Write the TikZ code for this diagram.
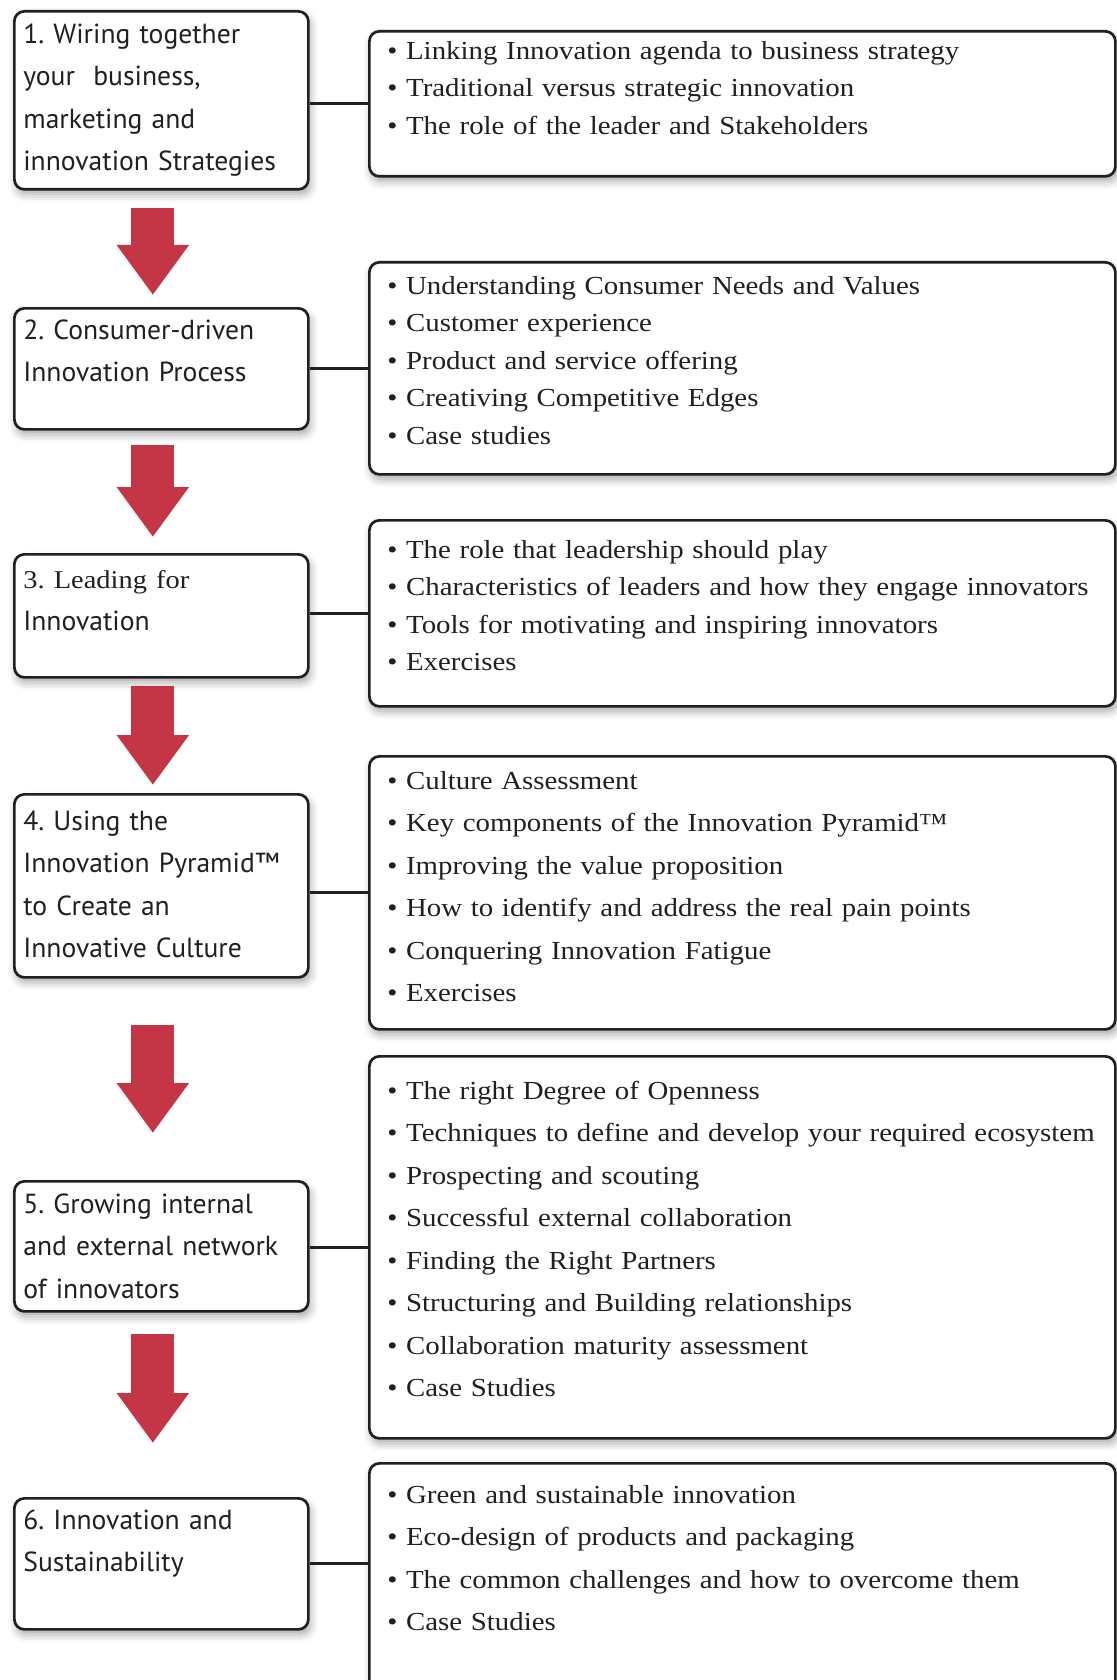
\documentclass[tikz,border=0pt]{standalone}
\usepackage{fontspec}
\usepackage{xcolor}
\usepackage{tikz}
\usetikzlibrary{arrows.meta,shadows.blur}
\newfontfamily\stagefont{PT Sans}
\newfontfamily\topicfont{Liberation Serif}[FakeStretch=1.11]
\definecolor{arrowred}{RGB}{196, 54, 70}
\definecolor{inkblack}{RGB}{35, 31, 32}
\frenchspacing

\begin{document}
\begin{tikzpicture}[
    x=0.5pt, y=-0.5pt,
    stage/.style={draw=inkblack, line width=1.35pt, rounded corners=5pt, fill=white, anchor=north west,
        text width=138pt, inner xsep=4.5pt, inner ysep=0pt, align=left, text=inkblack,
        font=\stagefont\fontsize{13.8}{21.25}\selectfont,
        blur shadow={shadow xshift=1pt, shadow yshift=-2.5pt, shadow blur radius=4pt, shadow opacity=35}},
    topics/.style={draw=inkblack, line width=1.35pt, rounded corners=5pt, fill=white, anchor=north west,
        text width=355pt, inner xsep=9pt, inner ysep=0pt, align=left, text=inkblack,
        font=\topicfont\fontsize{13}{21.25}\selectfont,
        blur shadow={shadow xshift=1pt, shadow yshift=-2.5pt, shadow blur radius=4pt, shadow opacity=35}},
    closelines/.style={font=\topicfont\fontsize{13}{18.75}\selectfont},
    link/.style={draw=inkblack, line width=1.5pt},
    flow/.style={arrowred, line width=21.5pt, -{Triangle[width=34.5pt, length=25pt]}}
]
\useasboundingbox (0,0) rectangle (1116,1680);

% Stages on the left
\node[stage, text height=16pt, text depth=73pt] (s1) at (13,10) {1. Wiring together\\your\ \ business,\\marketing and\\innovation Strategies};
\node[stage, text height=15.5pt, text depth=45pt] (s2) at (13,307) {2. Consumer-driven\\Innovation Process};
\node[stage, text height=17pt, text depth=44.5pt] (s3) at (13,553) {{\topicfont\fontsize{12.8}{21.25}\selectfont 3. Leading for}\\Innovation};
\node[stage, text height=18pt, text depth=73.5pt] (s4) at (13,793) {4. Using the\\Innovation Pyramid™\\to Create an\\Innovative Culture};
\node[stage, text height=16pt, text depth=49pt] (s5) at (13,1180) {5. Growing internal\\and external network\\of innovators};
\node[stage, text height=15.5pt, text depth=50pt] (s6) at (13,1497) {6. Innovation and\\Sustainability};

% Topics on the right
\node[topics, closelines, text height=14pt, text depth=58.5pt] (t1) at (368,30) {• Linking Innovation agenda to business strategy\\• Traditional versus strategic innovation\\• The role of the leader and Stakeholders};
\node[topics, closelines, text height=16pt, text depth=90pt] (t2) at (368,261) {• Understanding Consumer Needs and Values\\• Customer experience\\• Product and service offering\\• Creativing Competitive Edges\\• Case studies};
\node[topics, closelines, text height=19pt, text depth=74pt] (t3) at (368,519) {• The role that leadership should play\\• Characteristics of leaders and how they engage innovators\\• Tools for motivating and inspiring innovators\\• Exercises};
\node[topics, text height=16.5pt, text depth=120pt] (t4) at (368,755) {• Culture Assessment\\• Key components of the Innovation Pyramid™\\• Improving the value proposition\\• How to identify and address the real pain points\\• Conquering Innovation Fatigue\\• Exercises};
\node[topics, text height=21.5pt, text depth=169.5pt] (t5) at (368,1055) {• The right Degree of Openness\\• Techniques to define and develop your required ecosystem\\• Prospecting and scouting\\• Successful external collaboration\\• Finding the Right Partners\\• Structuring and Building relationships\\• Collaboration maturity assessment\\• Case Studies};
\node[topics, text height=20pt, text depth=130pt] (t6) at (368,1462) {• Green and sustainable innovation\\• Eco-design of products and packaging\\• The common challenges and how to overcome them\\• Case Studies};

% Links
\draw[link] (t1.west -| s1.east) -- (t1.west);
\draw[link] (t2.west -| s2.east) -- (t2.west);
\draw[link] (t3.west -| s3.east) -- (t3.west);
\draw[link] (t4.west -| s4.east) -- (t4.west);
\draw[link] (t5.west -| s5.east) -- (t5.west);
\draw[link] (s6.east) -- (s6.east -| t6.west);

% Flow arrows
\draw[flow, shorten <=8.5pt, shorten >=6pt] ([xshift=-4.25pt]s1.south) -- ([xshift=-4.25pt]s2.north);
\draw[flow, shorten <=7pt, shorten >=8pt] ([xshift=-4.25pt]s2.south) -- ([xshift=-4.25pt]s3.north);
\draw[flow, shorten <=3.5pt, shorten >=4pt] ([xshift=-4.25pt]s3.south) -- ([xshift=-4.25pt]s4.north);
\draw[flow, shorten <=23pt, shorten >=23.5pt] ([xshift=-4.25pt]s4.south) -- ([xshift=-4.25pt]s5.north);
\draw[flow, shorten <=10.5pt, shorten >=27pt] ([xshift=-4.25pt]s5.south) -- ([xshift=-4.25pt]s6.north);

\end{tikzpicture}
\end{document}
